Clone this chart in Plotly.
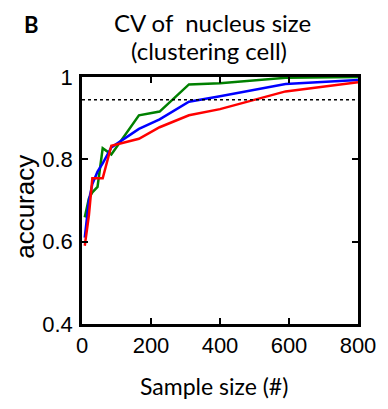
import plotly.graph_objects as go

# Data
sample_size = [8, 20, 30, 45, 60, 85, 165, 225, 310, 400, 590, 800]
acc_green = [0.659, 0.705, 0.72, 0.733, 0.827, 0.812, 0.907, 0.916, 0.982, 0.985, 0.998, 1.0]
acc_blue = [0.61, 0.70, 0.74, 0.77, 0.79, 0.829, 0.874, 0.897, 0.94, 0.953, 0.983, 0.993]
acc_red = [0.59, 0.664, 0.754, 0.754, 0.754, 0.833, 0.85, 0.878, 0.907, 0.922, 0.965, 0.987]
threshold = 0.945

x_ticks = [0, 200, 400, 600, 800]
y_ticks = [0.4, 0.6, 0.8, 1.0]
y_ticklabels = ["0.4", "0.6", "0.8", "1"]

fig = go.Figure()
for ys, col in [(acc_green, "rgb(0,128,0)"), (acc_blue, "rgb(0,0,255)"), (acc_red, "rgb(255,0,0)")]:
    fig.add_trace(go.Scatter(x=sample_size, y=ys, mode="lines",
                             line=dict(color=col, width=2.5), showlegend=False))

fig.add_shape(type="line", xref="paper", x0=0, x1=1, yref="y", y0=threshold, y1=threshold,
              line=dict(color="black", width=1.5, dash="dot"))

title_font = dict(family="Lato", size=24, color="black")
fig.add_annotation(text="CV of  nucleus size", xref="paper", yref="paper",
                   x=(214 - 82) / 280, y=(324 - 23) / 247, xanchor="center", yanchor="middle",
                   showarrow=False, font=title_font)
fig.add_annotation(text="(clustering cell)", xref="paper", yref="paper",
                   x=(211 - 82) / 280, y=(324 - 51) / 247, xanchor="center", yanchor="middle",
                   showarrow=False, font=title_font)
fig.add_annotation(text="<b>B</b>", xref="paper", yref="paper",
                   x=(31 - 82) / 280, y=(324 - 24) / 247, xanchor="center", yanchor="middle",
                   showarrow=False, font=dict(family="Lato", size=22, color="black"))
fig.add_annotation(text="Sample size (#)", xref="paper", yref="paper",
                   x=(216 - 82) / 280, y=(324 - 386) / 247, xanchor="center", yanchor="middle",
                   showarrow=False, font=dict(family="Lato", size=23, color="black"))
fig.add_annotation(text="accuracy", xref="paper", yref="paper", textangle=-90,
                   x=(24 - 82) / 280, y=(324 - 207) / 247, xanchor="center", yanchor="middle",
                   showarrow=False, font=dict(family="Liberation Sans", size=26, color="black"))

axis_common = dict(showline=True, linecolor="black", linewidth=2.5, mirror="ticks",
                   ticks="inside", ticklen=6, tickwidth=2, tickcolor="black",
                   showgrid=False, zeroline=False,
                   tickfont=dict(family="Liberation Sans", size=22, color="black"))

fig.update_xaxes(range=[0, 800], tickvals=x_ticks, ticktext=[str(v) for v in x_ticks], **axis_common)
fig.update_yaxes(range=[0.4, 1.0], tickvals=y_ticks, ticktext=y_ticklabels, ticklabelstandoff=2,
                 **axis_common)

fig.update_layout(width=388, height=409, margin=dict(l=82, r=26, t=77, b=85),
                  plot_bgcolor="white", paper_bgcolor="white")

fig.write_html("out.html")
